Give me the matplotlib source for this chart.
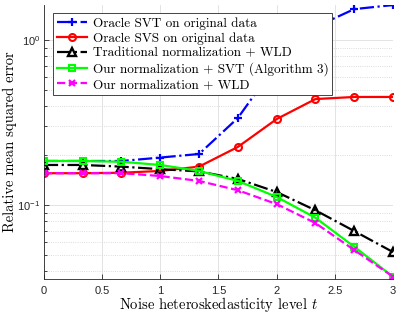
import matplotlib
matplotlib.use("Agg")
import matplotlib.pyplot as plt
from matplotlib.ticker import LogLocator, FixedLocator, FixedFormatter, NullFormatter

plt.rcParams['mathtext.fontset'] = 'cm'
plt.rcParams['axes.unicode_minus'] = False

# noise heteroskedasticity levels
t = [0, 1/3, 2/3, 1, 4/3, 5/3, 2, 7/3, 8/3, 3]

svt_oracle = [0.185, 0.185, 0.185, 0.194, 0.204, 0.337, 0.72, 1.2, 1.54, 1.63]
svs_oracle = [0.156, 0.156, 0.157, 0.161, 0.171, 0.225, 0.332, 0.439, 0.452, 0.452]
trad_wld = [0.175, 0.175, 0.171, 0.165, 0.160, 0.144, 0.120, 0.093, 0.0696, 0.0519]
ours_svt = [0.185, 0.185, 0.183, 0.175, 0.161, 0.140, 0.112, 0.0838, 0.0559, 0.0368]
ours_wld = [0.156, 0.156, 0.156, 0.150, 0.140, 0.123, 0.1014, 0.0778, 0.0534, 0.0368]

labels = ["Oracle SVT on original data",
          "Oracle SVS on original data",
          "Traditional normalization + WLD",
          "Our normalization + SVT (Algorithm 3)",
          "Our normalization + WLD"]

xticks = [0, 0.5, 1, 1.5, 2, 2.5, 3]
xticklabels = ["0", "0.5", "1", "1.5", "2", "2.5", "3"]
yticks = [0.1, 1.0]
yticklabels = [r"$\mathregular{10^{-1}}$", r"$\mathregular{10^{0}}$"]

serif = 'cmr10'
tickfont = 'Liberation Sans'

fig = plt.figure(figsize=(3.99, 3.15), dpi=100)
ax = fig.add_axes([0.110, 0.114, 0.875, 0.870])

lw = 1.6
ax.plot(t, svt_oracle, color=(0, 0, 1), ls='-.', lw=lw, marker='+', ms=5.5, mew=1.6, label=labels[0])
ax.plot(t, svs_oracle, color=(1, 0, 0), ls='-', lw=lw, marker='o', ms=5, mfc='none', mew=1.5, label=labels[1])
ax.plot(t, trad_wld, color='k', ls='-.', lw=lw, marker='^', ms=5.5, mfc='none', mew=1.7, label=labels[2])
ax.plot(t, ours_svt, color=(0, 1, 0), ls='-', lw=lw, marker='s', ms=4.5, mfc='none', mew=1.5, label=labels[3])
ax.plot(t, ours_wld, color=(1, 0, 1), ls='--', lw=lw, marker='x', ms=4, mew=1.6, label=labels[4])

ax.set_yscale('log')
ax.set_xlim(0, 3)
ax.set_ylim(0.0356, 1.63)

ax.xaxis.set_major_locator(FixedLocator(xticks))
ax.xaxis.set_major_formatter(FixedFormatter(xticklabels))
ax.yaxis.set_major_locator(FixedLocator(yticks))
ax.yaxis.set_major_formatter(FixedFormatter(yticklabels))
ax.yaxis.set_minor_locator(LogLocator(base=10, subs=[2, 3, 4, 5, 6, 7, 8, 9]))
ax.yaxis.set_minor_formatter(NullFormatter())

ax.grid(True, which='major', color=(0.87, 0.87, 0.87), lw=0.6, ls='-')
ax.grid(True, which='minor', axis='y', color=(0.82, 0.82, 0.82), lw=0.6, ls=':')
ax.set_axisbelow(True)

for s in ['top', 'right']:
    ax.spines[s].set_visible(False)
for s in ['left', 'bottom']:
    ax.spines[s].set_color((0.15, 0.15, 0.15))
    ax.spines[s].set_linewidth(0.6)

ax.tick_params(which='both', direction='in', colors=(0.15, 0.15, 0.15), labelsize=8, width=0.6)
ax.tick_params(which='major', length=3.5)
ax.tick_params(which='minor', length=2)
ax.tick_params(axis='x', pad=5)
ax.tick_params(axis='y', pad=2.5)
for lab in ax.get_xticklabels() + ax.get_yticklabels():
    lab.set_fontfamily(tickfont)

ax.set_xlabel(r"Noise heteroskedasticity level $t$", fontsize=10.5, family=serif)
ax.set_ylabel("Relative mean squared error", fontsize=10.5, family=serif)
ax.xaxis.set_label_coords(0.5, -0.058)
ax.yaxis.set_label_coords(-0.076, 0.5)

leg = ax.legend(loc='upper left', bbox_to_anchor=(0.026, 0.971), borderaxespad=0,
                prop={'family': serif, 'size': 9.5}, fancybox=False, framealpha=1,
                edgecolor=(0.15, 0.15, 0.15), handlelength=2.3, labelspacing=0.2,
                borderpad=0.3, handletextpad=0.4)
leg.get_frame().set_linewidth(0.6)

fig.savefig("out.png", dpi=100)
